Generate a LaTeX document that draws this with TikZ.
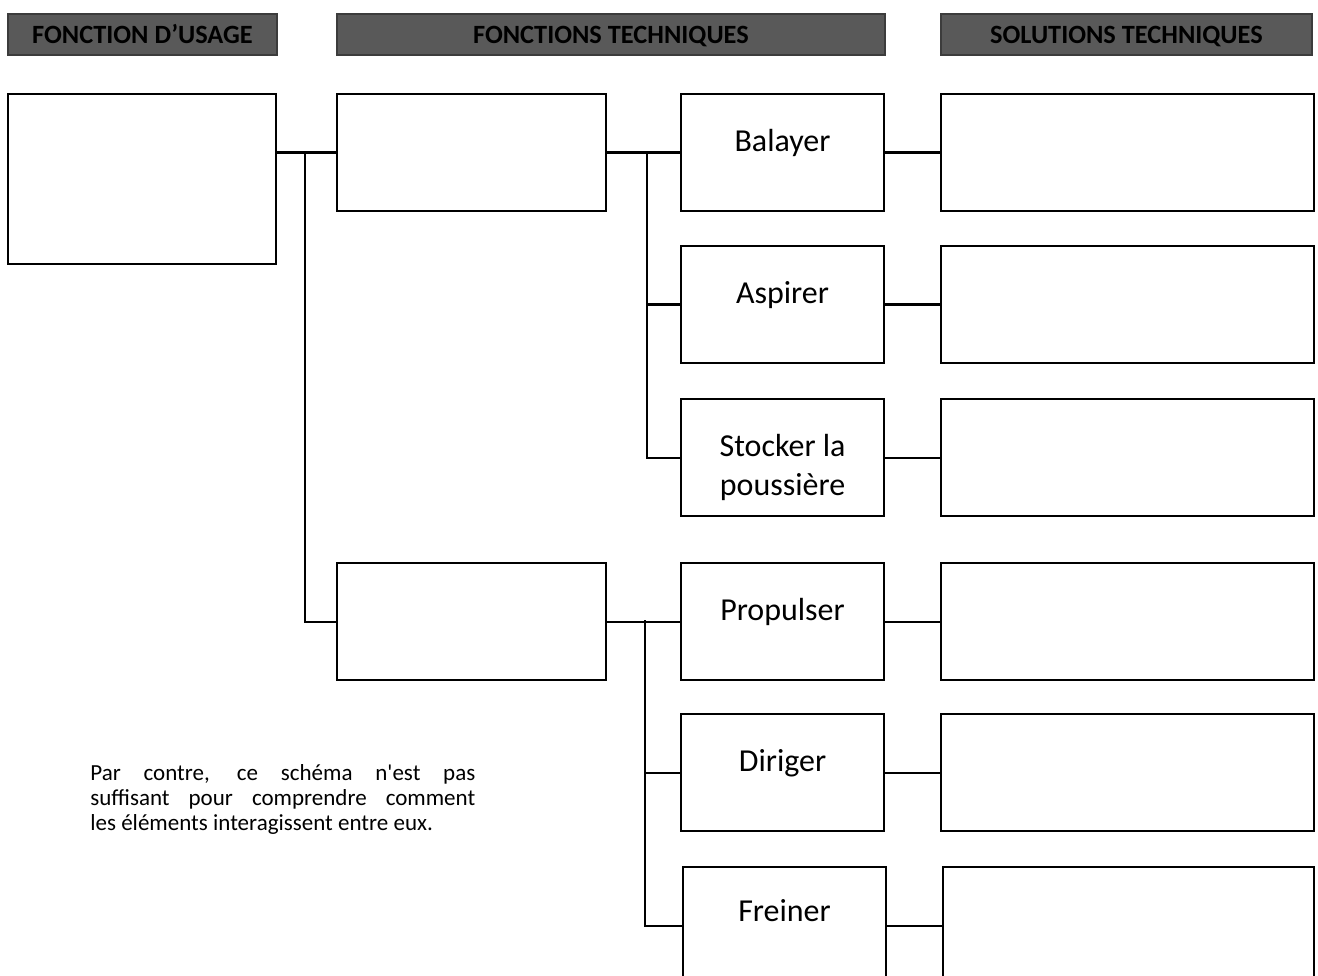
\documentclass[tikz,border=0pt]{standalone}
\usepackage{fontspec}
\setmainfont{Carlito}
\definecolor{hdrfill}{HTML}{595959}
\definecolor{hdrborder}{HTML}{3C3C3C}
\begin{document}
\begin{tikzpicture}[x=0.02cm,y=-0.02cm,
  box/.style={draw=black, line width=1.2pt, fill=white, inner sep=0pt, anchor=north west},
  hdr/.style={draw=hdrborder, fill=hdrfill, line width=1.1pt, inner sep=0pt, anchor=north west,
    minimum height=0.82cm, text height=10.2pt, text depth=0pt,
    font=\bfseries\fontsize{15}{18}\selectfont, text=black},
  lbl/.style={font=\fontsize{18.2}{22.2}\selectfont, align=center, inner sep=0pt},
  wire/.style={line width=1.2pt}]
\useasboundingbox (0,0) rectangle (1318,975);
\clip (0,0) rectangle (1318,975);

% headers
\node[hdr, minimum width=5.38cm] (h1) at (7,13) {FONCTION D’USAGE};
\node[hdr, minimum width=10.96cm] (h2) at (336,13) {FONCTIONS TECHNIQUES};
\node[hdr, minimum width=7.42cm] (h3) at (940,13) {SOLUTIONS TECHNIQUES};

% boxes
\node[box, minimum width=5.36cm, minimum height=3.4cm] (fu) at (7,93) {};
\node[box, minimum width=5.38cm, minimum height=2.34cm] (ft1) at (336,93) {};
\node[box, minimum width=5.38cm, minimum height=2.34cm] (ft2) at (336,562) {};

\node[box, minimum width=4.06cm, minimum height=2.34cm] (bal) at (680,93) {};
\node[box, minimum width=4.06cm, minimum height=2.34cm] (asp) at (680,245) {};
\node[box, minimum width=4.06cm, minimum height=2.34cm] (sto) at (680,398) {};
\node[box, minimum width=4.06cm, minimum height=2.34cm] (pro) at (680,562) {};
\node[box, minimum width=4.06cm, minimum height=2.34cm] (dir) at (680,713) {};
\node[box, minimum width=4.06cm, minimum height=2.34cm] (fre) at (682,866) {};

\node[box, minimum width=7.46cm, minimum height=2.34cm] (st1) at (940,93) {};
\node[box, minimum width=7.46cm, minimum height=2.34cm] (st2) at (940,245) {};
\node[box, minimum width=7.46cm, minimum height=2.34cm] (st3) at (940,398) {};
\node[box, minimum width=7.46cm, minimum height=2.34cm] (st4) at (940,562) {};
\node[box, minimum width=7.46cm, minimum height=2.34cm] (st5) at (940,713) {};
\node[box, minimum width=7.42cm, minimum height=2.34cm] (st6) at (942,866) {};

% labels
\node[lbl] (tbal) at ([yshift=-1.0cm]bal.north) {Balayer};
\node[lbl] (tasp) at ([yshift=-1.0cm]asp.north) {Aspirer};
\node[lbl] (tsto) at ([yshift=-1.38cm]sto.north) {Stocker la\\poussière};
\node[lbl] (tpro) at ([yshift=-1.0cm]pro.north) {Propulser};
\node[lbl] (tdir) at ([yshift=-1.0cm]dir.north) {Diriger};
\node[lbl] (tfre) at ([yshift=-0.9cm]fre.north) {Freiner};

% connectors
\coordinate (j0) at (305,152);
\coordinate (j1) at (647,152);
\coordinate (j2) at (645,620);
\draw[wire] (ft1.west) -- (ft1.west -| fu.east);
\draw[wire] (j0) |- (ft2.west);
\draw[wire] (ft1.east) -- (bal.west);
\draw[wire] (j1) |- (asp.west);
\draw[wire] (j1) |- (sto.west);
\draw[wire] (ft2.east) -- (pro.west);
\draw[wire] (j2) |- (dir.west);
\draw[wire] (j2) |- (fre.west);
\draw[wire] (bal.east) -- (st1.west);
\draw[wire] (asp.east) -- (st2.west);
\draw[wire] (sto.east) -- (st3.west);
\draw[wire] (pro.east) -- (st4.west);
\draw[wire] (dir.east) -- (st5.west);
\draw[wire] (fre.east) -- (st6.west);

% paragraph
\node[anchor=north west, inner sep=0pt, text width=7.7cm, align=justify,
  font=\fontsize{13.1}{14.2}\selectfont] (para) at (90,764)
  {Par contre, ce schéma n\textquotesingle est pas\linebreak suffisant pour comprendre comment\linebreak les éléments interagissent entre eux.};
\end{tikzpicture}
\end{document}
